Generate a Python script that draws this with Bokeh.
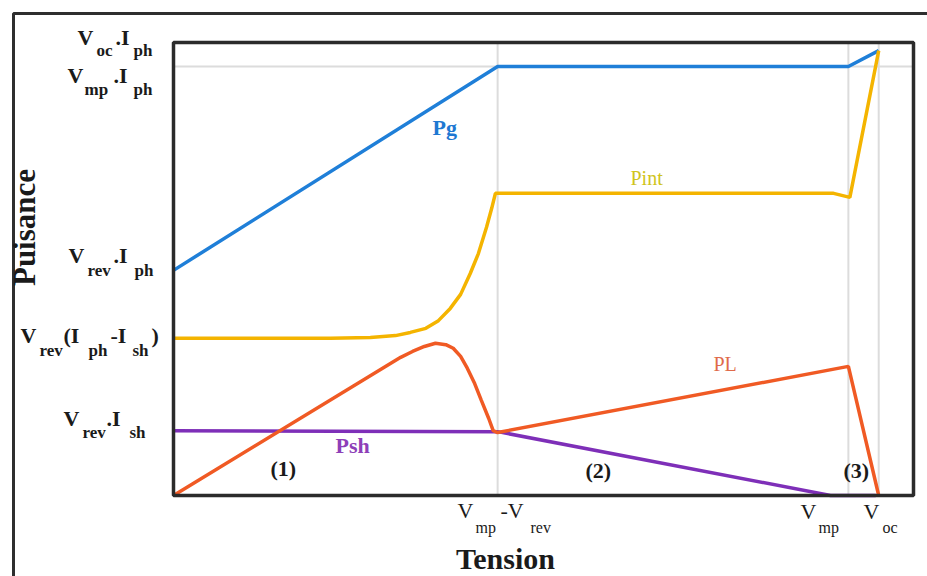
import math
from bokeh.plotting import figure
from bokeh.models import Range1d, Label
from bokeh.embed import file_html
from bokeh.resources import INLINE

# ---- data (normalised voltage / power) ----
V_MP_MINUS_V_REV = 0.438
V_MP = 0.912
V_OC = 0.953
P_VMP_IPH = 0.947

pg_x = [0.0, 0.438, 0.912, 0.953]
pg_y = [0.497, 0.947, 0.947, 0.982]

pint_x = [0.0, 0.212, 0.266, 0.300, 0.320, 0.341, 0.358, 0.374, 0.388, 0.401, 0.412, 0.423, 0.430, 0.435,
          0.892, 0.914, 0.953]
pint_y = [0.347, 0.347, 0.349, 0.353, 0.360, 0.369, 0.386, 0.413, 0.444, 0.490, 0.534, 0.592, 0.634, 0.667,
          0.667, 0.658, 0.982]

pl_x = [0.0, 0.307, 0.323, 0.339, 0.354, 0.368, 0.378, 0.388, 0.397, 0.407, 0.416, 0.426, 0.432, 0.438,
        0.912, 0.953]
pl_y = [0.0, 0.305, 0.318, 0.329, 0.336, 0.333, 0.325, 0.307, 0.281, 0.247, 0.210, 0.170, 0.143, 0.139,
        0.285, 0.0]

psh_x = [0.0, 0.438, 0.888, 0.949]
psh_y = [0.143, 0.141, 0.0, 0.0]

# ---- layout constants (page pixels) ----
W, H = 927, 576
FL, FR, FT, FB = 173, 913, 42, 495   # inner plot frame
OUTER = 13                           # outer frame left/top
TEXT_SHIFT = -8                      # baseline correction for labels


def dx(px):
    return (px - FL) / (FR - FL)


def dy(py):
    return (FB - py) / (FB - FT)


SERIF = "Liberation Serif"

p = figure(width=W, height=H, output_backend="svg", toolbar_location=None,
           x_range=Range1d(dx(0), dx(W)), y_range=Range1d(dy(H), dy(0)),
           min_border=0, min_border_left=0, min_border_right=0,
           min_border_top=0, min_border_bottom=0)
p.axis.visible = False
p.grid.visible = False
p.outline_line_color = None
p.background_fill_color = "white"
p.border_fill_color = "white"

# outer frame (left and top edges)
p.line([dx(OUTER), dx(OUTER), dx(W + 5)], [dy(H + 5), dy(OUTER), dy(OUTER)],
       line_color="#2e2e2e", line_width=3)

# faint guide lines
for loc in [V_MP_MINUS_V_REV, V_MP, V_OC]:
    p.segment(x0=[loc], y0=[0], x1=[loc], y1=[1], line_color="#dcdcdc", line_width=2)
p.segment(x0=[0], y0=[P_VMP_IPH], x1=[1], y1=[P_VMP_IPH], line_color="#dcdcdc", line_width=2)

p.line(pg_x, pg_y, line_color="#1f7fd8", line_width=3.5)
p.line(pint_x, pint_y, line_color="#f4b400", line_width=3.5)
p.line(psh_x, psh_y, line_color="#7e2fb8", line_width=3.5)
p.line(pl_x, pl_y, line_color="#f05a24", line_width=3.5)

# inner plot frame
p.quad(left=[0], right=[1], bottom=[0], top=[1], fill_color=None,
       line_color="#2b2b2b", line_width=3.5)


def put(text, px, py, size, bold=True, color="#1a1a1a", align="left",
        baseline="alphabetic", angle=0.0, shift=TEXT_SHIFT):
    p.add_layout(Label(x=dx(px), y=dy(py + shift), text=text, text_font=SERIF,
                       text_font_size=f"{size}px",
                       text_font_style="bold" if bold else "normal",
                       text_color=color, text_align=align,
                       text_baseline=baseline, angle=angle))


MAIN, SUB = 22, 17
# y tick labels
for segs in [
    [("V", 77, 45, MAIN), ("oc", 96, 58, SUB), (".I", 115, 45, MAIN), ("ph", 133, 58, SUB)],
    [("V", 67, 83, MAIN), ("mp", 84, 97, SUB), (".I", 113, 83, MAIN), ("ph", 133, 97, SUB)],
    [("V", 68, 263, MAIN), ("rev", 87, 278, SUB), (".I", 113, 263, MAIN), ("ph", 134, 278, SUB)],
    [("V", 20, 343, MAIN), ("rev", 39, 358, SUB), ("(I", 63, 343, MAIN), ("ph", 88, 358, SUB),
     ("-I", 110, 343, MAIN), ("sh", 132, 358, SUB), (")", 151, 343, MAIN)],
    [("V", 63, 426, MAIN), ("rev", 82, 440, SUB), (".I", 106, 426, MAIN), ("sh", 129, 440, SUB)],
]:
    for t, x, y, s in segs:
        put(t, x, y, s)

# x tick labels
for segs in [
    [("V", 457, 518, 22), ("mp", 475, 535, 16), ("-V", 500, 518, 22), ("rev", 530, 535, 16)],
    [("V", 800, 519, 22), ("mp", 818, 535, 16)],
    [("V", 863, 519, 22), ("oc", 882, 535, 16)],
]:
    for t, x, y, s in segs:
        put(t, x, y, s, bold=False)

# axis titles
put("Tension", 505, 566, 30, align="center")
put("Puisance", 24, 227, 31, align="center", baseline="middle", angle=math.pi / 2, shift=0)

# curve names and regions
put("Pg", 432, 135, 22, color="#1e78d2")
put("Pint", 630, 185, 20, bold=False, color="#d0c41c")
put("PL", 713, 371, 20, bold=False, color="#e06a4a")
put("Psh", 335, 453, 22, color="#8e3fb8")
put("(1)", 270, 476, 22)
put("(2)", 585, 478, 22)
put("(3)", 843, 478, 22)

open("out.html", "w").write(file_html(p, INLINE))
